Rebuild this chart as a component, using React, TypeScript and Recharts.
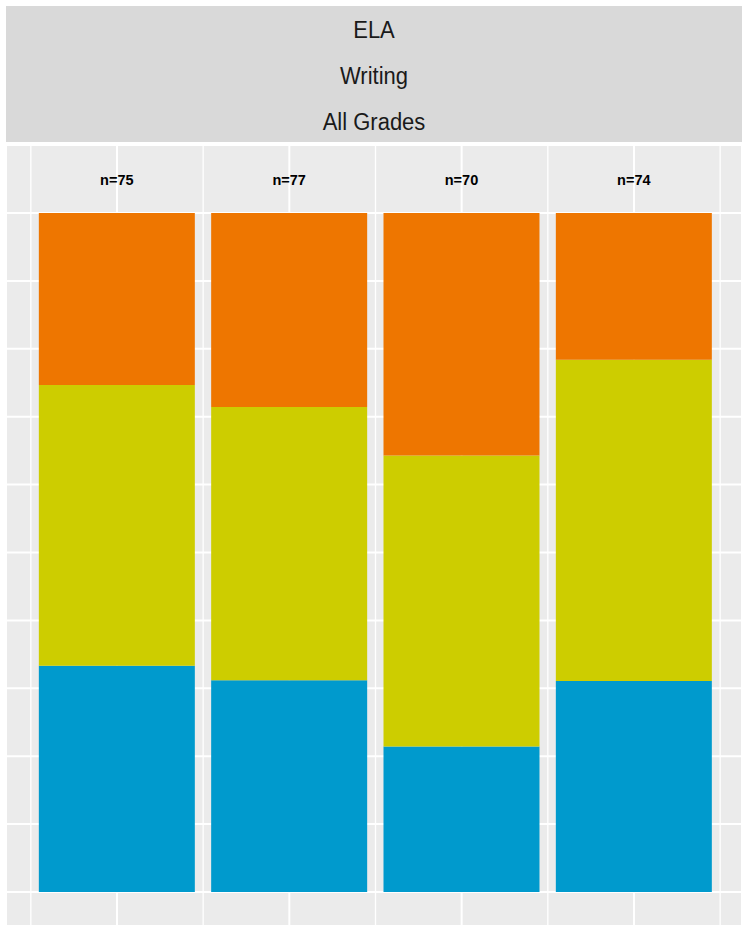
import { ComposedChart, Bar, XAxis, YAxis, CartesianGrid, LabelList } from 'recharts';

// four groups, counts per level (bottom to top)
const groups = [1, 2, 3, 4];
const nTotals = [75, 77, 70, 74];
const lowCounts = [25, 24, 15, 23];
const midCounts = [31, 31, 30, 35];
const highCounts = [19, 22, 25, 16];

const stripLines = ['ELA', 'Writing', 'All Grades'];
const yTicks = [0, 0.1, 0.2, 0.3, 0.4, 0.5, 0.6, 0.7, 0.8, 0.9, 1.0, 1.1];
const majorTicks = [1, 2, 3, 4];
const minorTicks = [0.5, 1.5, 2.5, 3.5, 4.5];

const COLORS = {
  low: '#009ACD',
  mid: '#CDCD00',
  high: '#EE7600',
};

const data = groups.map((g, i) => ({
  group: g,
  n: nTotals[i],
  low: lowCounts[i] / nTotals[i],
  mid: midCounts[i] / nTotals[i],
  high: highCounts[i] / nTotals[i],
}));

export default function App() {
  return (
    <div style={{ position: 'absolute', left: 0, top: 0, width: 742, height: 926, background: '#fff', fontFamily: '"Liberation Sans", Arial, sans-serif' }}>
      <div
        style={{
          position: 'absolute',
          left: 6,
          top: 6,
          width: 736,
          height: 136,
          background: '#D9D9D9',
          color: '#1A1A1A',
          fontSize: 22,
        }}
      >
        {stripLines.map((t, i) => (
          <div key={t} style={{ position: 'absolute', left: 0, width: '100%', top: 12 + i * 46, textAlign: 'center', lineHeight: '26px', transform: 'scaleY(1.06)' }}>
            {t}
          </div>
        ))}
      </div>
      <div style={{ position: 'absolute', left: 6, top: 143 }}>
        <ComposedChart width={736} height={783} data={data} margin={{ top: 0, right: 0, bottom: 0, left: 0 }}>
          <CartesianGrid xAxisId="minor" fill="#EBEBEB" stroke="#FFFFFF" strokeWidth={1.3} horizontal={false} />
          <CartesianGrid xAxisId="major" fill="none" stroke="#FFFFFF" strokeWidth={2} />
          <XAxis xAxisId="major" dataKey="group" type="number" domain={[0.3559, 4.6267]} ticks={majorTicks} allowDataOverflow hide />
          <XAxis xAxisId="minor" dataKey="group" type="number" domain={[0.3559, 4.6267]} ticks={minorTicks} allowDataOverflow hide />
          <YAxis type="number" domain={[-0.0501, 1.1031]} ticks={yTicks} allowDataOverflow hide />
          <Bar xAxisId="major" dataKey="low" stackId="a" fill={COLORS.low} barSize={156} isAnimationActive={false} />
          <Bar xAxisId="major" dataKey="mid" stackId="a" fill={COLORS.mid} barSize={156} isAnimationActive={false} />
          <Bar xAxisId="major" dataKey="high" stackId="a" fill={COLORS.high} barSize={156} isAnimationActive={false}>
            <LabelList
              dataKey="n"
              position="top"
              offset={28}
              formatter={(v: any) => `n=${v}`}
              style={{ fill: '#000', fontSize: 14.5, fontWeight: 'bold', fontFamily: '"Liberation Sans", Arial, sans-serif' }}
            />
          </Bar>
        </ComposedChart>
      </div>
    </div>
  );
}
